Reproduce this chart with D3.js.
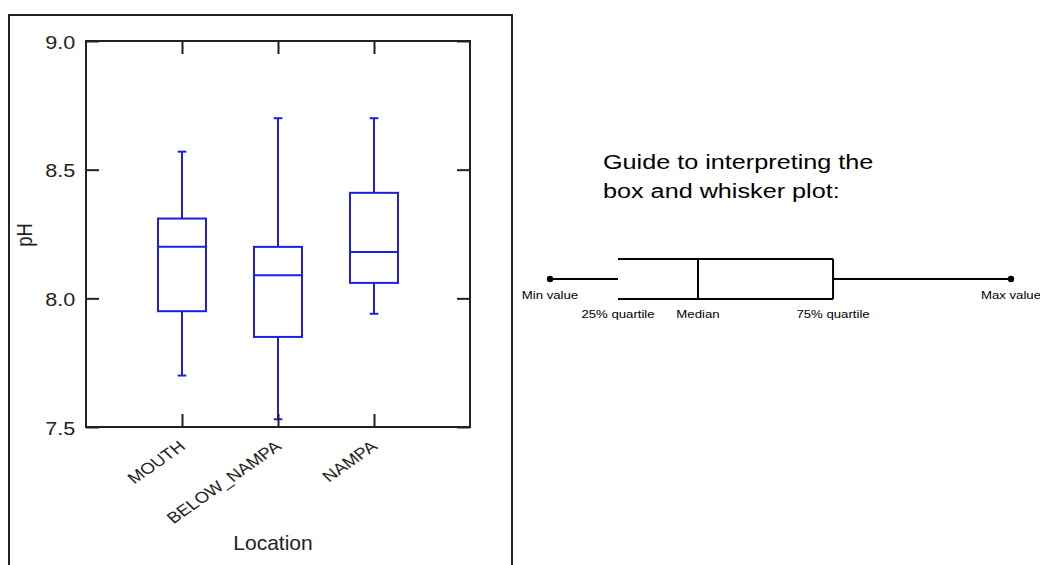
<!DOCTYPE html>
<html>
<head>
<meta charset="utf-8">
<script src="https://cdn.jsdelivr.net/npm/d3@7"></script>
<style>
  html, body { margin: 0; padding: 0; background: #fff; }
  svg { display: block; font-family: "Liberation Sans", Arial, sans-serif; }
</style>
</head>
<body>
<svg id="chart" width="1040" height="565"></svg>
<script>
// ---- data ----
const categories = ["MOUTH", "BELOW_NAMPA", "NAMPA"];
const mins    = [7.70, 7.53, 7.94];
const q1s     = [7.95, 7.85, 8.06];
const medians = [8.20, 8.09, 8.18];
const q3s     = [8.31, 8.20, 8.41];
const maxs    = [8.57, 8.70, 8.70];
const yTicks  = [7.5, 8.0, 8.5, 9.0];
const yLabel = "pH";
const xLabel = "Location";

// guide (schematic)
const guideTitle = ["Guide to interpreting the", "box and whisker plot:"];
const guideNames = ["Min value", "25% quartile", "Median", "75% quartile", "Max value"];
const guideStops = [0, 0.1475, 0.321, 0.614, 1];

// ---- layout ----
const svg = d3.select("#chart");
const SX = 1.2; // horizontal stretch of the original image
const blue = "#1f1fe0";
const ink = "#222";

svg.append("rect").attr("width", 1040).attr("height", 565).attr("fill", "#fff");

// outer frame
svg.append("rect")
  .attr("x", 9).attr("y", 15).attr("width", 503).attr("height", 600)
  .attr("fill", "none").attr("stroke", ink).attr("stroke-width", 2);

const x = d3.scaleLinear().domain([0, categories.length + 1]).range([86, 470]);
const y = d3.scaleLinear().domain([7.5, 9.0]).range([427, 41]);

const g = svg.append("g");

// boxes
const data = categories.map((c, i) => ({
  c, pos: i + 1, min: mins[i], q1: q1s[i], med: medians[i], q3: q3s[i], max: maxs[i]
}));
const half = 0.25, cap = 0.045;
const bx = g.selectAll("g.box").data(data).join("g").attr("class", "box")
  .attr("stroke", blue).attr("stroke-width", 2).attr("fill", "none");
bx.append("line").attr("x1", d => x(d.pos)).attr("x2", d => x(d.pos))
  .attr("y1", d => y(d.q3)).attr("y2", d => y(d.max));
bx.append("line").attr("x1", d => x(d.pos)).attr("x2", d => x(d.pos))
  .attr("y1", d => y(d.q1)).attr("y2", d => y(d.min));
bx.append("line").attr("x1", d => x(d.pos - cap)).attr("x2", d => x(d.pos + cap))
  .attr("y1", d => y(d.max)).attr("y2", d => y(d.max));
bx.append("line").attr("x1", d => x(d.pos - cap)).attr("x2", d => x(d.pos + cap))
  .attr("y1", d => y(d.min)).attr("y2", d => y(d.min));
bx.append("rect").attr("x", d => x(d.pos - half)).attr("width", d => x(d.pos + half) - x(d.pos - half))
  .attr("y", d => y(d.q3)).attr("height", d => y(d.q1) - y(d.q3));
bx.append("line").attr("x1", d => x(d.pos - half)).attr("x2", d => x(d.pos + half))
  .attr("y1", d => y(d.med)).attr("y2", d => y(d.med));

// axes (ticks inward)
const TL = 13;
const yAxisL = g.append("g").attr("transform", `translate(${x.range()[0]},0)`)
  .call(d3.axisLeft(y).tickValues(yTicks).tickFormat(d3.format(".1f")).tickSize(-TL).tickPadding(9));
const yAxisR = g.append("g").attr("transform", `translate(${x.range()[1]},0)`)
  .call(d3.axisRight(y).tickValues(yTicks).tickFormat("").tickSize(-TL));
const xAxisB = g.append("g").attr("transform", `translate(0,${y.range()[0]})`)
  .call(d3.axisBottom(x).tickValues(d3.range(1, categories.length + 1))
    .tickFormat(i => categories[i - 1]).tickSize(-TL));
const xAxisT = g.append("g").attr("transform", `translate(0,${y.range()[1]})`)
  .call(d3.axisTop(x).tickValues(d3.range(1, categories.length + 1)).tickFormat("").tickSize(-TL));

[yAxisL, yAxisR, xAxisB, xAxisT].forEach(a => {
  a.select(".domain").remove();
  a.selectAll(".tick line").attr("stroke", ink).attr("stroke-width", 2);
  a.selectAll("text").attr("fill", "#222").attr("font-family", "Liberation Sans, Arial, sans-serif");
});

yAxisL.selectAll("text").attr("font-size", 18).attr("dy", "0.4em")
  .attr("transform", `scale(${SX},1)`);

xAxisB.selectAll("text").attr("font-size", 15.5)
  .attr("x", 0).attr("y", 0).attr("dy", 0)
  .attr("text-anchor", "end")
  .attr("transform", `translate(4,21) scale(${SX},1) rotate(-40)`);

// frame
g.append("rect")
  .attr("x", x.range()[0]).attr("y", y.range()[1])
  .attr("width", x.range()[1] - x.range()[0]).attr("height", y.range()[0] - y.range()[1])
  .attr("fill", "none").attr("stroke", ink).attr("stroke-width", 2);

// axis titles
svg.append("text").text(yLabel)
  .attr("font-size", 18.5).attr("fill", "#222").attr("text-anchor", "middle")
  .attr("transform", `translate(32,235) scale(${SX},1) rotate(-90)`);
svg.append("text").text(xLabel)
  .attr("font-size", 21).attr("fill", "#222").attr("text-anchor", "middle")
  .attr("x", 273).attr("y", 550);

// ---- guide ----
const gx = d3.scaleLinear().domain([0, 1]).range([550, 1011]);
const gy = 279, boxTop = 259, boxBot = 299;
const guide = svg.append("g");
guide.selectAll("text.title").data(guideTitle).join("text").attr("class", "title")
  .text(d => d).attr("font-size", 21).attr("fill", "#000")
  .attr("transform", (d, i) => `translate(603,${169 + i * 29}) scale(${SX},1)`);

const gl = guide.append("g").attr("stroke", "#000").attr("stroke-width", 2).attr("fill", "none");
gl.append("line").attr("x1", gx(guideStops[0])).attr("x2", gx(guideStops[1])).attr("y1", gy).attr("y2", gy);
gl.append("line").attr("x1", gx(guideStops[3])).attr("x2", gx(guideStops[4])).attr("y1", gy).attr("y2", gy);
gl.append("line").attr("x1", gx(guideStops[1])).attr("x2", gx(guideStops[3])).attr("y1", boxTop).attr("y2", boxTop);
gl.append("line").attr("x1", gx(guideStops[1])).attr("x2", gx(guideStops[3])).attr("y1", boxBot).attr("y2", boxBot);
gl.append("line").attr("x1", gx(guideStops[2])).attr("x2", gx(guideStops[2])).attr("y1", boxTop).attr("y2", boxBot);
gl.append("line").attr("x1", gx(guideStops[3])).attr("x2", gx(guideStops[3])).attr("y1", boxTop).attr("y2", boxBot);
guide.selectAll("circle").data([guideStops[0], guideStops[4]]).join("circle")
  .attr("cx", d => gx(d)).attr("cy", gy).attr("r", 3.2).attr("fill", "#000");

guide.selectAll("text.lab").data(guideNames.map((n, i) => ({ n, s: guideStops[i], i })))
  .join("text").attr("class", "lab")
  .text(d => d.n).attr("font-size", 11).attr("fill", "#000").attr("text-anchor", "middle")
  .attr("transform", d => `translate(${gx(d.s)},${(d.i === 0 || d.i === 4) ? 299 : 318}) scale(${SX},1)`);
</script>
</body>
</html>
